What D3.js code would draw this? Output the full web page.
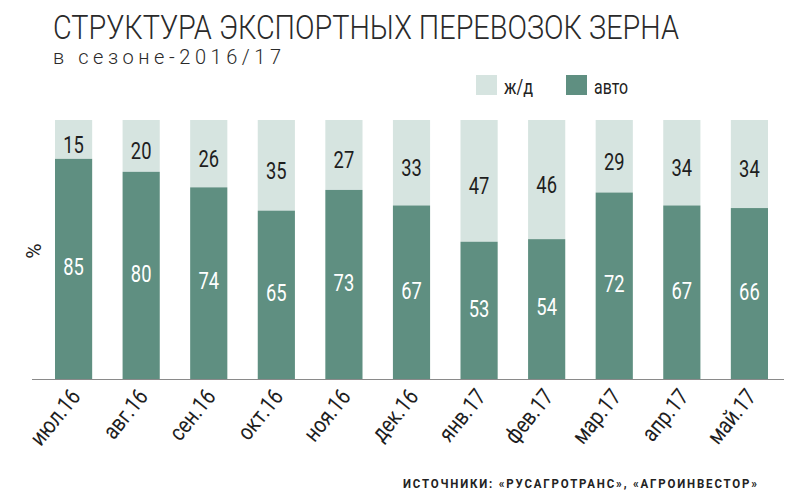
<!DOCTYPE html>
<html><head><meta charset="utf-8">
<script src="https://cdn.jsdelivr.net/npm/d3@7"></script>
<style>
html,body{margin:0;padding:0;background:#fff;}
svg{display:block;}
</style></head>
<body>
<svg id="chart" width="800" height="493"></svg>
<script>
const months = ["июл.16","авг.16","сен.16","окт.16","ноя.16","дек.16","янв.17","фев.17","мар.17","апр.17","май.17"];
const auto = [85,80,74,65,73,67,53,54,72,67,66];
const rail = [15,20,26,35,27,33,47,46,29,34,34];
const seriesNames = ["ж/д","авто"];
const titleText = "СТРУКТУРА ЭКСПОРТНЫХ ПЕРЕВОЗОК ЗЕРНА";
const subtitleText = "в сезоне-2016/17";
const sourceText = "ИСТОЧНИКИ: «РУСАГРОТРАНС», «АГРОИНВЕСТОР»";

const cDark = "#5f8f81", cLight = "#d6e4e0";
const font = "Roboto, 'Liberation Sans', sans-serif";

const svg = d3.select("#chart");
const x = d3.scaleBand().domain(months).range([55, 768]).paddingInner(0.45).paddingOuter(0);
const y = d3.scaleLinear().domain([0, 100]).range([379, 120]);

// condensed text helper: horizontal squeeze around the anchor point
function cText(parent, px, py, txt, size, sx, anchor, fill, weight) {
  return parent.append("text")
    .attr("transform", `translate(${px},${py}) scale(${sx},1)`)
    .attr("text-anchor", anchor || "start")
    .attr("font-family", font).attr("font-size", size)
    .attr("font-weight", weight || 400)
    .attr("fill", fill || "#222").text(txt);
}

// title
svg.append("text").attr("x", 53).attr("y", 39)
  .attr("font-family", font).attr("font-size", 33.5).attr("font-weight", 300).attr("fill", "#2a2a2a")
  .attr("textLength", 626).attr("lengthAdjust", "spacingAndGlyphs")
  .text(titleText);
svg.append("text").attr("x", 53).attr("y", 64)
  .attr("font-family", font).attr("font-size", 20).attr("font-weight", 300).attr("fill", "#2a2a2a")
  .attr("textLength", 228).attr("lengthAdjust", "spacing")
  .text(subtitleText);

// legend
const leg = [{name: seriesNames[0], c: cLight, x: 476, w: 29}, {name: seriesNames[1], c: cDark, x: 566, w: 34}];
leg.forEach(l => {
  svg.append("rect").attr("x", l.x).attr("y", 75).attr("width", 21).attr("height", 20).attr("fill", l.c);
  svg.append("text").attr("x", l.x + 28).attr("y", 94).attr("font-family", font)
    .attr("font-size", 21).attr("fill", "#222")
    .attr("textLength", l.w).attr("lengthAdjust", "spacingAndGlyphs").text(l.name);
});

// bars
const g = svg.append("g");
months.forEach((m, i) => {
  const a = auto[i], r = rail[i];
  const cx = x(m) + x.bandwidth() / 2;
  g.append("rect").attr("x", x(m)).attr("width", x.bandwidth())
    .attr("y", y(100)).attr("height", y(a) - y(100)).attr("fill", cLight);
  g.append("rect").attr("x", x(m)).attr("width", x.bandwidth())
    .attr("y", y(a)).attr("height", y(0) - y(a)).attr("fill", cDark);
  cText(g, cx, (y(100) + y(a)) / 2 + 5 + 8.3, r, 23.5, 0.78, "middle", "#1e1e1e");
  cText(g, cx, (y(a) + y(0)) / 2 - 2 + 8.3, a, 23.5, 0.78, "middle", "#ffffff");
});

// axis
const ax = svg.append("g").attr("transform", `translate(0,${y(0)})`)
  .call(d3.axisBottom(x).tickSize(0).tickPadding(0));
ax.select(".domain").remove();
svg.append("line").attr("x1", 32).attr("x2", 784).attr("y1", y(0) + 0.5).attr("y2", y(0) + 0.5)
  .attr("stroke", "#8a8a8a").attr("stroke-width", 1.2);
ax.selectAll(".tick text")
  .attr("font-family", font).attr("font-size", 23).attr("fill", "#1e1e1e")
  .attr("text-anchor", "end").attr("dy", 0).attr("y", 0)
  .attr("transform", "translate(8,18) rotate(-51) scale(0.84,1)");

// y label
svg.append("text").attr("transform", "translate(41,251) rotate(-90)")
  .attr("text-anchor", "middle").attr("font-family", font).attr("font-size", 21)
  .attr("fill", "#222").text("%");

// source
svg.append("text")
  .attr("transform", "translate(403,488) scale(0.85,1)")
  .attr("font-family", font).attr("font-weight", "bold")
  .attr("font-size", 13.5).attr("fill", "#222")
  .attr("textLength", 354 / 0.85).attr("lengthAdjust", "spacing")
  .text(sourceText);
</script>
</body></html>
